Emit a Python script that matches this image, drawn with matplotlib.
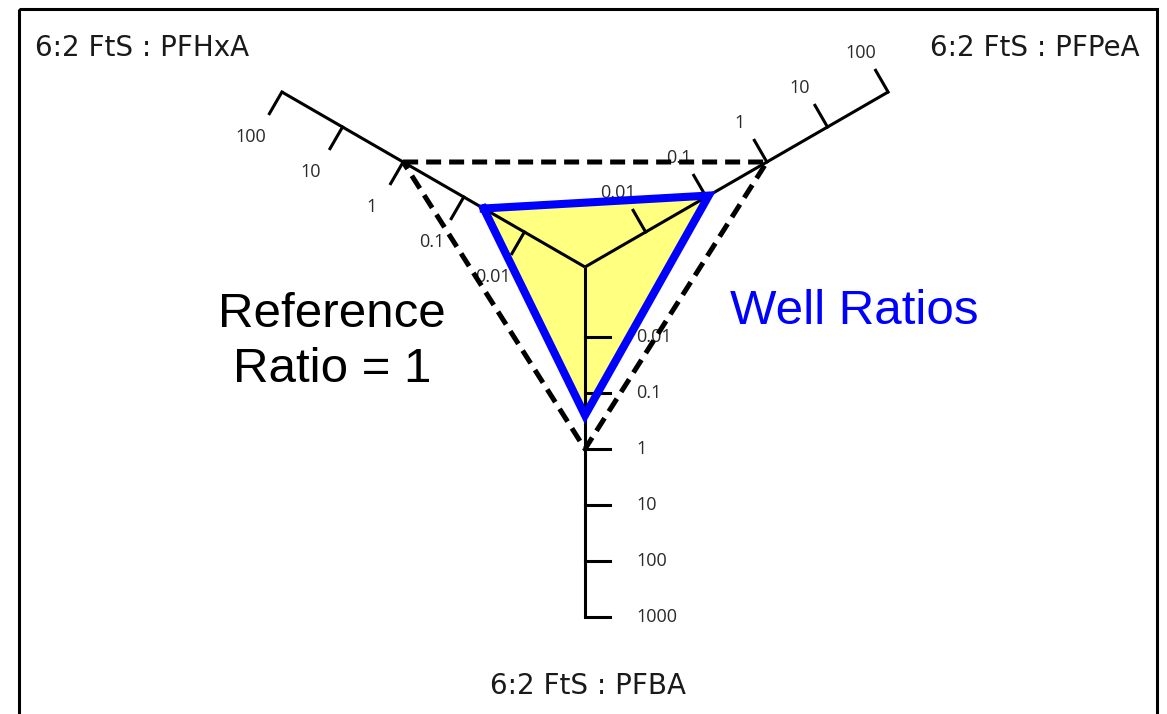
import numpy as np
import matplotlib
matplotlib.use("Agg")
import matplotlib.pyplot as plt
from matplotlib.patches import Polygon, Rectangle

# ---- data -------------------------------------------------------------
axis_names = ["6:2 FtS : PFHxA", "6:2 FtS : PFPeA", "6:2 FtS : PFBA"]
reference_ratios = [1.0, 1.0, 1.0]
well_ratios = [0.047, 0.11, 0.25]
upper_ticks = [0.01, 0.1, 1, 10, 100]
upper_tick_labels = ["0.01", "0.1", "1", "10", "100"]
lower_ticks = [0.01, 0.1, 1, 10, 100, 1000]
lower_tick_labels = ["0.01", "0.1", "1", "10", "100", "1000"]

# ---- layout (pixel space, y downwards) --------------------------------
W, H = 1167, 714
center = np.array([585.0, 267.0])
c30, s30 = np.cos(np.radians(30)), np.sin(np.radians(30))
axes_geom = [
    # direction, tick side, decade length, tick values, tick labels
    dict(d=np.array([-c30, -s30]), n=np.array([-s30, c30]), dec=70.0,
         ticks=upper_ticks, labels=upper_tick_labels, lab_off=51,
         shift=np.array([-6.0, 1.0])),
    dict(d=np.array([c30, -s30]), n=np.array([-s30, -c30]), dec=70.0,
         ticks=upper_ticks, labels=upper_tick_labels, lab_off=47,
         shift=np.array([-4.0, 2.0])),
    dict(d=np.array([0.0, 1.0]), n=np.array([1.0, 0.0]), dec=56.0,
         ticks=lower_ticks, labels=lower_tick_labels, lab_off=51,
         shift=np.array([0.0, 0.0])),
]
BASE = 70.0      # distance from centre to the 0.01 mark
TICK_LEN = 25.0


def point(ax_i, value):
    g = axes_geom[ax_i]
    dist = BASE + g["dec"] * (np.log10(value) - np.log10(0.01))
    return center + g["d"] * dist


fig = plt.figure(figsize=(W / 100, H / 100), dpi=100)
ax = fig.add_axes([0, 0, 1, 1])
ax.set_xlim(0, W)
ax.set_ylim(H, 0)
ax.axis("off")

# outer frame
ax.add_patch(Rectangle((19, 9), 1138, 740, fill=False, ec="black",
                       lw=2.2, clip_on=False, zorder=1))

# well-ratio triangle (filled)
well_pts = np.array([point(i, v) for i, v in enumerate(well_ratios)])
ax.add_patch(Polygon(well_pts, closed=True, fc="#FFFF80", ec="none", zorder=2))

# axes with ticks and labels
tick_font = dict(family="Open Sans", fontsize=13, color="#2a2a2a")
for i, g in enumerate(axes_geom):
    end = point(i, g["ticks"][-1])
    ax.plot([center[0], end[0]], [center[1], end[1]], color="black",
            lw=2.2, solid_capstyle="butt", zorder=3)
    for v, lab in zip(g["ticks"], g["labels"]):
        p = point(i, v)
        q = p + g["n"] * TICK_LEN
        ax.plot([p[0], q[0]], [p[1], q[1]], color="black", lw=2.2,
                solid_capstyle="projecting", zorder=3)
        if i == 2:
            ax.text(p[0] + g["lab_off"], p[1], lab, ha="left", va="center",
                    zorder=2.5, **tick_font)
        else:
            t = p + g["n"] * g["lab_off"] + g["shift"]
            ax.text(t[0], t[1], lab, ha="center", va="center",
                    zorder=2.5, **tick_font)

# reference triangle (ratio = 1)
ref_pts = np.array([point(i, v) for i, v in enumerate(reference_ratios)])
ref_closed = np.vstack([ref_pts, ref_pts[:1]])
ax.plot(ref_closed[:, 0], ref_closed[:, 1], color="black", lw=3.6,
        dashes=(3.0, 1.6), zorder=4)

# well-ratio outline
well_closed = np.vstack([well_pts, well_pts[:1]])
ax.plot(well_closed[:, 0], well_closed[:, 1], color="#0000FF", lw=5.8,
        solid_joinstyle="miter", zorder=5)

# axis names
name_font = dict(family="DejaVu Sans", fontsize=20, color="#1a1a1a")
ax.text(35, 48, axis_names[0], ha="left", va="center", **name_font)
ax.text(1140, 48, axis_names[1], ha="right", va="center", **name_font)
ax.text(588, 686, axis_names[2], ha="center", va="center", **name_font)

# annotations
ax.text(332, 342, "Reference\nRatio = 1", ha="center", va="center",
        family="Liberation Sans", fontsize=35.5, color="black",
        linespacing=1.3)
ax.text(854, 311, "Well Ratios", ha="center", va="center",
        family="Liberation Sans", fontsize=35.5, color="#0000FF")

fig.savefig("out.png", dpi=100)
